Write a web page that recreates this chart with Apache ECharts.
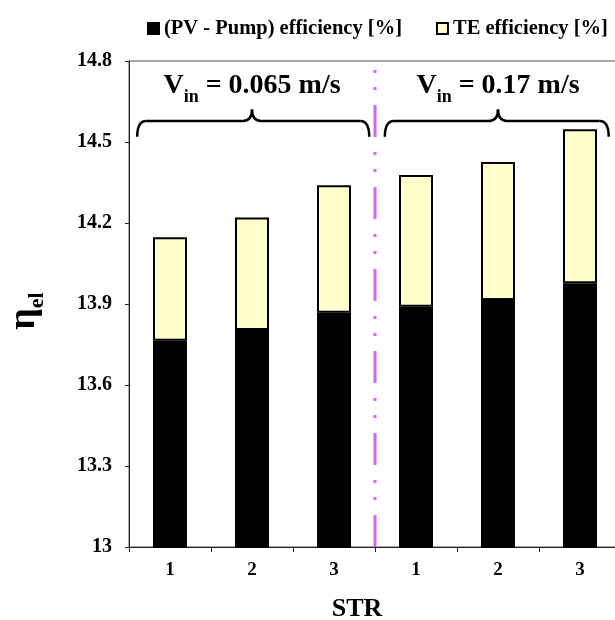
<!DOCTYPE html>
<html>
<head>
<meta charset="utf-8">
<script src="https://cdn.jsdelivr.net/npm/echarts@6/dist/echarts.min.js"></script>
<style>html,body{margin:0;padding:0;background:#fff;}#c{width:615px;height:620px;}</style>
</head>
<body>
<div id="c"></div>
<script>
// ---- data ----
const categories = ['1', '2', '3', '1', '2', '3'];
const pvPumpEff = [13.764, 13.804, 13.868, 13.890, 13.915, 13.977];
const teEff = [0.383, 0.416, 0.472, 0.488, 0.511, 0.570]; // stacked on top of PV-Pump
const yTicks = { min: 13, max: 14.8, step: 0.3 };
const groupLabels = ['0.065', '0.17'];
const seriesNames = ['(PV - Pump) efficiency [%]', 'TE efficiency [%]'];

const FONT = 'Liberation Serif';
const chart = echarts.init(document.getElementById('c'));

chart.setOption({
  animation: false,
  backgroundColor: '#fff',
  textStyle: { fontFamily: FONT },
  legend: {
    data: seriesNames,
    icon: 'rect',
    left: 142, top: 13,
    itemWidth: 11, itemHeight: 11, itemGap: 34,
    textStyle: { fontFamily: FONT, fontWeight: 'bold', fontSize: 20.5, color: '#000' }
  },
  grid: { left: 129, top: 61, width: 492, height: 486, containLabel: false, outerBoundsMode: 'none',
          show: true, borderColor: '#555', borderWidth: 1, backgroundColor: 'transparent' },
  xAxis: [{
    type: 'category',
    data: categories,
    axisLine: { lineStyle: { color: '#222', width: 1 } },
    axisTick: { show: true, length: 5, lineStyle: { color: '#222' } },
    axisLabel: { color: '#000', fontFamily: FONT, fontWeight: 'bold', fontSize: 19, margin: 14 },
    name: 'STR', nameLocation: 'middle', nameGap: 49,
    nameTextStyle: { color: '#000', fontFamily: FONT, fontWeight: 'bold', fontSize: 26, padding: [0, 36, 0, 0] }
  }, {
    type: 'value', min: 0, max: 6, show: false
  }],
  yAxis: {
    type: 'value', min: yTicks.min, max: yTicks.max, interval: yTicks.step,
    splitLine: { show: false },
    axisLine: { show: true, lineStyle: { color: '#222', width: 1 } },
    axisTick: { show: true, length: 4, lineStyle: { color: '#222' } },
    axisLabel: { color: '#000', fontFamily: FONT, fontWeight: 'bold', fontSize: 20, margin: 17,
      formatter: v => (Math.abs(v - Math.round(v)) < 1e-6 ? String(Math.round(v)) : v.toFixed(1)) },
    name: '{a|η}{b|el}', nameLocation: 'middle', nameRotate: 90, nameGap: 81,
    nameTextStyle: {
      color: '#000',
      padding: [0, 14, 0, 0],
      rich: {
        a: { fontFamily: FONT, fontWeight: 'bold', fontSize: 38, lineHeight: 48, color: '#000' },
        b: { fontFamily: FONT, fontWeight: 'bold', fontSize: 22, lineHeight: 22, verticalAlign: 'bottom', color: '#000' }
      }
    }
  },
  series: [{
    name: seriesNames[0], type: 'bar', stack: 'eff', data: pvPumpEff, barWidth: 34,
    itemStyle: { color: '#000', borderColor: '#000', borderWidth: 2 }
  }, {
    name: seriesNames[1], type: 'bar', stack: 'eff', data: teEff, barWidth: 34,
    itemStyle: { color: '#FFFFCC', borderColor: '#000', borderWidth: 2 }
  }, {
    type: 'line', xAxisIndex: 1, yAxisIndex: 0, silent: true, symbol: 'none',
    data: [[3, yTicks.min], [3, yTicks.max]],
    lineStyle: { color: '#cc66ff', width: 3, type: [32, 15, 3, 14, 3, 15] }
  }]
});

// ---- group annotations (braces + velocity labels) ----
function px(x, y) { return chart.convertToPixel({ xAxisIndex: 1, yAxisIndex: 0 }, [x, y]); }
const STROKE = { stroke: '#000', lineWidth: 2.5, fill: null };
function brace(x1, x2, xc, yh, yb, yp, r) {
  const q = (ax, ay, cx, cy, bx, by) => ({ type: 'bezierCurve', silent: true,
    shape: { x1: ax, y1: ay, cpx1: cx, cpy1: cy, x2: bx, y2: by }, style: STROKE });
  const l = (ax, ay, bx, by) => ({ type: 'line', silent: true,
    shape: { x1: ax, y1: ay, x2: bx, y2: by }, style: STROKE });
  return [
    q(x1, yb, x1, yh, x1 + r, yh),
    l(x1 + r, yh, xc - r, yh),
    q(xc - r, yh, xc, yh, xc, yp),
    q(xc, yp, xc, yh, xc + r, yh),
    l(xc + r, yh, x2 - r, yh),
    q(x2 - r, yh, x2, yh, x2, yb)
  ];
}
const spans = [[0.1, 2.93, 1.5], [3.12, 5.85, 4.5]];
let graphics = [];
spans.forEach((s, i) => {
  const a = px(s[0], 14.578), b = px(s[1], 14.578), c = px(s[2], 14.578);
  const yb = px(0, 14.519)[1], yp = px(0, 14.62)[1];
  graphics = graphics.concat(brace(a[0], b[0], c[0], a[1], yb, yp, 9));
  const t = px(s[2], 14.707);
  graphics.push({
    type: 'text', x: t[0], y: t[1], silent: true,
    style: {
      text: '{v|V}{s|in}{v| = ' + groupLabels[i] + ' m/s}',
      align: 'center', verticalAlign: 'middle',
      rich: {
        v: { fontFamily: FONT, fontWeight: 'bold', fontSize: 28, lineHeight: 40, fill: '#000' },
        s: { fontFamily: FONT, fontWeight: 'bold', fontSize: 18, lineHeight: 18, verticalAlign: 'bottom', fill: '#000' }
      }
    }
  });
});
chart.setOption({ graphic: graphics });
</script>
</body>
</html>
